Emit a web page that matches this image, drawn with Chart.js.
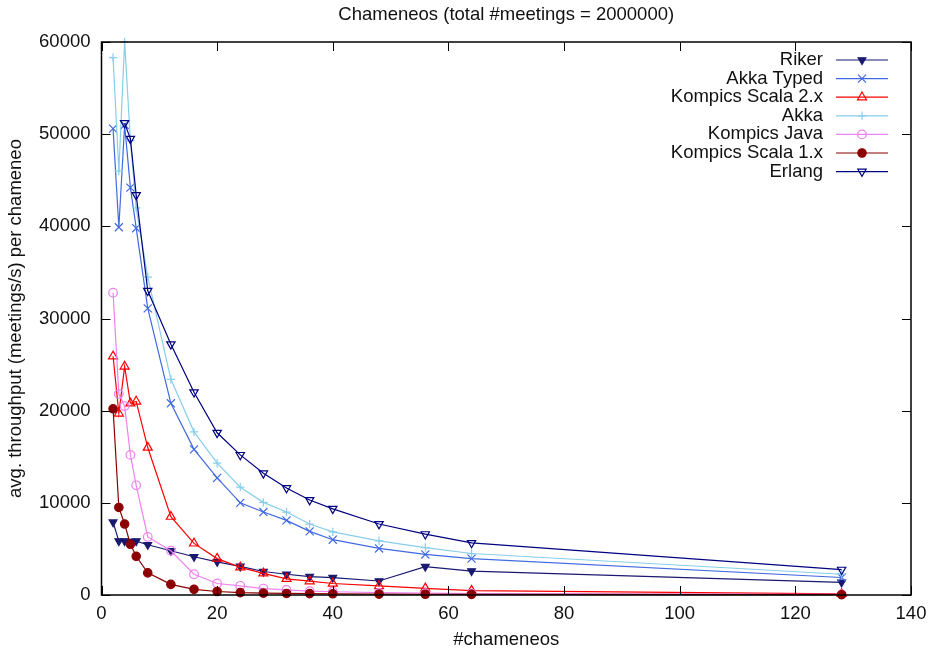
<!DOCTYPE html>
<html>
<head>
<meta charset="utf-8">
<script src="https://cdn.jsdelivr.net/npm/chart.js@4/dist/chart.umd.min.js"></script>
<style>
  html, body { margin: 0; padding: 0; background: #fff; }
  #wrap { width: 936px; height: 655px; }
</style>
</head>
<body>
<div id="wrap"><canvas id="myChart" width="936" height="655"></canvas></div>
<script>
// number of chameneos (x)
const chameneos = [2, 3, 4, 5, 6, 8, 12, 16, 20, 24, 28, 32, 36, 40, 48, 56, 64, 128];

// avg. throughput per chameneo
const riker        = [7900, 5850, 5850, 5800, 5850, 5450, 4800, 4150, 3600, 3100, 2550, 2250, 2000, 1880, 1520, 3080, 2600, 1370];
const akkaTyped    = [50600, 39900, 51000, 44200, 39800, 31100, 20800, 15800, 12700, 10000, 9000, 8100, 6900, 6000, 5050, 4400, 3950, 1900];
const kompicsS2    = [25900, 19700, 24800, 20800, 21000, 16000, 8500, 5600, 3950, 3000, 2350, 1750, 1500, 1250, 980, 720, 480, 120];
const akka         = [58300, 46000, 60000, 49300, 42000, 34500, 23400, 17700, 14300, 11700, 10050, 9000, 7700, 6850, 5880, 5150, 4500, 2250];
const kompicsJava  = [32800, 21800, 20500, 15200, 11900, 6300, 4800, 2250, 1250, 1000, 700, 550, 420, 350, 260, 200, 160, 70];
const kompicsS1    = [20200, 9500, 7700, 5500, 4200, 2400, 1150, 620, 380, 260, 200, 170, 150, 130, 100, 80, 70, 30];
const erlang       = [null, null, 51200, 49500, 43400, 33000, 27200, 22000, 17600, 15200, 13200, 11600, 10300, 9350, 7700, 6600, 5650, 2750];

const xTicks = [0, 20, 40, 60, 80, 100, 120, 140];
const yTicks = [0, 10000, 20000, 30000, 40000, 50000, 60000];

const FONT = "'Liberation Sans', Arial, Helvetica, sans-serif";
const FS = 18.5;

const pts = (vals) => chameneos.map((x, i) => ({x: x, y: vals[i]}));

const mk = (label, vals, color, style, fill, rot, r, order) => ({
    label: label,
    data: pts(vals),
    borderColor: color,
    backgroundColor: fill ? color : 'rgba(0,0,0,0)',
    pointBorderColor: color,
    pointBackgroundColor: fill ? color : 'rgba(0,0,0,0)',
    pointStyle: style,
    pointRotation: rot,
    pointRadius: r,
    pointBorderWidth: 1.2,
    borderWidth: 1.2,
    tension: 0,
    fill: false,
    clip: false,
    order: order
});

const datasets = [
    mk('Riker', riker, '#191970', 'triangle', true, 180, 4.5, 7),
    mk('Akka Typed', akkaTyped, '#4169e1', 'crossRot', false, 0, 5.7, 6),
    mk('Kompics Scala 2.x', kompicsS2, '#ff0000', 'triangle', false, 0, 5.2, 5),
    mk('Akka', akka, '#87ceeb', 'cross', false, 0, 4.2, 4),
    mk('Kompics Java', kompicsJava, '#ee82ee', 'circle', false, 0, 4.3, 3),
    mk('Kompics Scala 1.x', kompicsS1, '#8b0000', 'circle', true, 0, 4.2, 2),
    mk('Erlang', erlang, '#000080', 'triangle', false, 180, 4.8, 1)
];

// gnuplot-like frame: full border with inward ticks on all four sides
const framePlugin = {
    id: 'frame',
    afterDraw(chart) {
        const ctx = chart.ctx, a = chart.chartArea;
        const xs = chart.scales.x, ys = chart.scales.y;
        const tl = 9;
        ctx.save();
        ctx.strokeStyle = '#000';
        ctx.lineWidth = 1;
        ctx.beginPath();
        yTicks.forEach(v => {
            const y = Math.round(ys.getPixelForValue(v)) + 0.5;
            ctx.moveTo(a.left, y); ctx.lineTo(a.left + tl, y);
            ctx.moveTo(a.right, y); ctx.lineTo(a.right - tl, y);
        });
        xTicks.forEach(v => {
            const x = Math.round(xs.getPixelForValue(v)) + 0.5;
            ctx.moveTo(x, a.bottom); ctx.lineTo(x, a.bottom - tl);
            ctx.moveTo(x, a.top); ctx.lineTo(x, a.top + tl);
        });
        ctx.stroke();
        ctx.lineWidth = 1.5;
        ctx.strokeRect(a.left, a.top, a.right - a.left, a.bottom - a.top);
        ctx.restore();
    }
};

// legend inside top right: label text, then line sample with marker
const keyPlugin = {
    id: 'key',
    afterDraw(chart) {
        const ctx = chart.ctx;
        const textRight = 823, x0 = 836, x1 = 888, xm = 862;
        ctx.save();
        ctx.font = FS + 'px ' + FONT;
        ctx.textAlign = 'right';
        ctx.textBaseline = 'middle';
        chart.data.datasets.forEach((ds, i) => {
            const y = 60 + i * 18.6;
            ctx.fillStyle = '#111';
            ctx.fillText(ds.label, textRight, y);
            ctx.strokeStyle = ds.borderColor;
            ctx.lineWidth = 1.2;
            ctx.beginPath();
            ctx.moveTo(x0, y); ctx.lineTo(x1, y);
            ctx.stroke();
            ctx.fillStyle = ds.pointBackgroundColor;
            Chart.helpers.drawPoint(ctx, {
                pointStyle: ds.pointStyle,
                rotation: ds.pointRotation,
                radius: ds.pointRadius,
                borderWidth: 1.2
            }, xm, y);
        });
        ctx.restore();
    }
};

const ctx = document.getElementById('myChart').getContext('2d');
const myChart = new Chart(ctx, {
    type: 'line',
    data: { datasets: datasets },
    plugins: [framePlugin, keyPlugin],
    options: {
        responsive: false,
        animation: false,
        devicePixelRatio: 1,
        layout: { padding: { left: 0, right: 25, top: 0, bottom: 0 } },
        plugins: {
            legend: { display: false },
            tooltip: { enabled: false },
            title: {
                display: true,
                fullSize: false,
                text: 'Chameneos (total #meetings = 2000000)',
                color: '#111',
                font: { family: FONT, size: FS, weight: 'normal' },
                padding: { top: 4, bottom: 15.8 }
            }
        },
        scales: {
            x: {
                type: 'linear',
                min: 0, max: 140,
                afterFit(scale) { scale.height = 60; },
                afterBuildTicks(scale) { scale.ticks = xTicks.map(v => ({value: v})); },
                grid: { display: false, drawTicks: false },
                border: { display: false },
                ticks: { color: '#111', padding: 8, maxRotation: 0, font: { family: FONT, size: FS },
                         callback: v => String(v) },
                title: {
                    display: true, text: '#chameneos', color: '#111',
                    font: { family: FONT, size: FS }, padding: { top: 2, bottom: 4 }
                }
            },
            y: {
                type: 'linear',
                min: 0, max: 60000,
                afterFit(scale) { scale.width = 101.5; },
                afterBuildTicks(scale) { scale.ticks = yTicks.map(v => ({value: v})); },
                grid: { display: false, drawTicks: false },
                border: { display: false },
                ticks: { color: '#111', padding: 11, font: { family: FONT, size: FS },
                         callback: v => String(v) },
                title: {
                    display: true, text: 'avg. throughput (meetings/s) per chameneo', color: '#111',
                    font: { family: FONT, size: FS }, padding: { top: 5, bottom: 4 }
                }
            }
        }
    }
});
</script>
</body>
</html>
